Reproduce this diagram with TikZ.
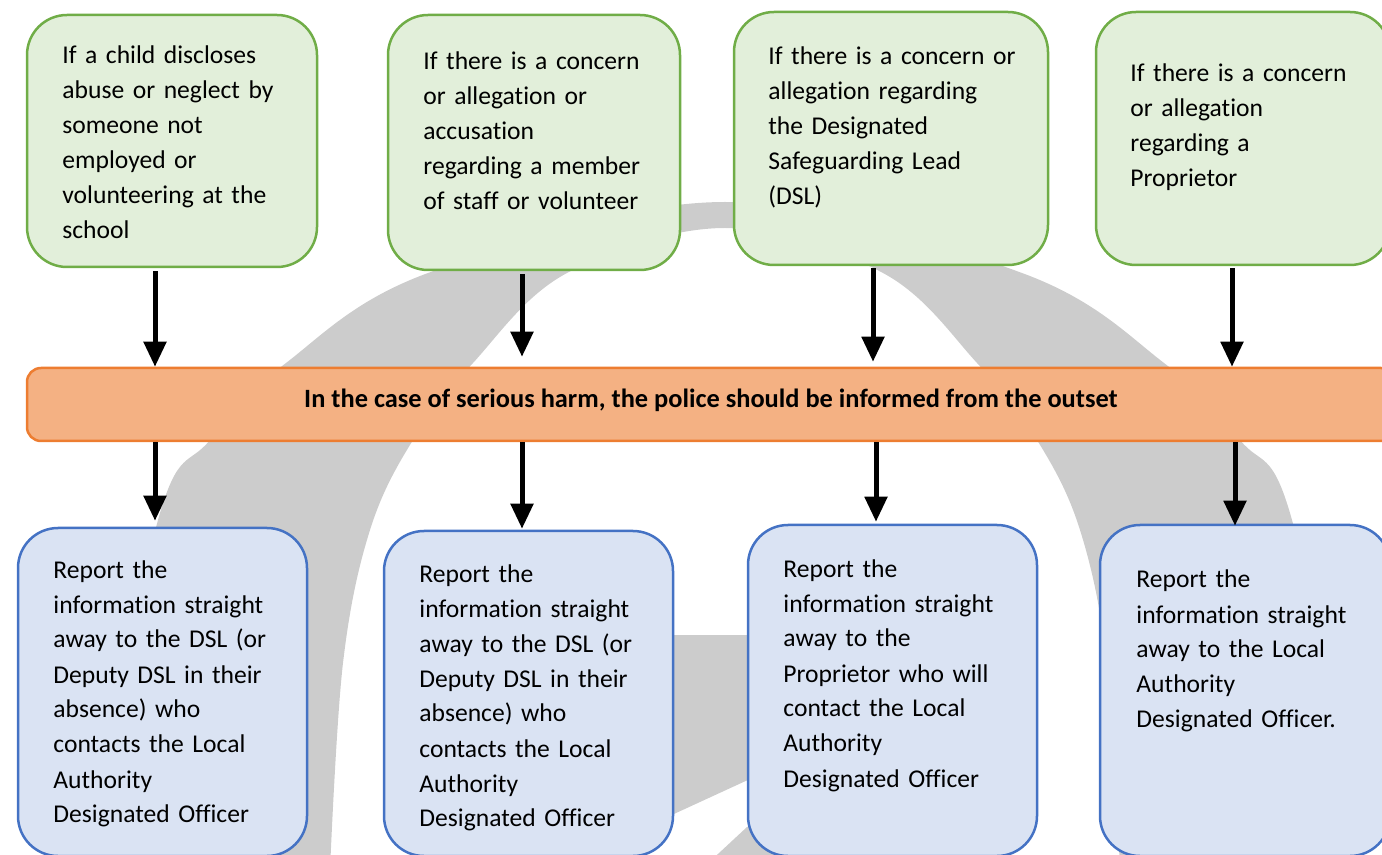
\documentclass[tikz,border=0pt]{standalone}
\usepackage{fontspec}
\setmainfont{Carlito}[Ligatures={TeX,NoCommon}]
\usetikzlibrary{arrows.meta, positioning, calc}

\definecolor{condfill}{HTML}{E2EFDA}
\definecolor{condline}{HTML}{70AD47}
\definecolor{harmfill}{HTML}{F4B183}
\definecolor{harmline}{HTML}{ED7D31}
\definecolor{actfill}{HTML}{DAE3F3}
\definecolor{actline}{HTML}{4472C4}
\definecolor{wmgrey}{HTML}{CCCCCC}

\begin{document}
\begin{tikzpicture}[x=0.5pt, y=-0.5pt,
      cond/.style={draw=condline, fill=condfill, line width=1.25pt, rounded corners=20pt, inner sep=0pt},
      act/.style={draw=actline, fill=actfill, line width=1.25pt, rounded corners=20pt, inner sep=0pt},
      harm/.style={draw=harmline, fill=harmfill, line width=1.25pt, rounded corners=7pt, inner sep=0pt},
      txt/.style={anchor=base west, inner sep=0pt, text width=155pt, align=left, font=\fontsize{12.8}{17.5}\selectfont},
      arr/.style={line width=2.5pt, -{Triangle[width=11pt, length=12.5pt]}}]
    \clip (0,0) rectangle (1382,855);

    %% watermark behind the chart
    \fill[wmgrey] plot[smooth, tension=0.6] coordinates {(90,870) (158,520) (210,440) (286,363) (428,273) (725,202) (1022,273) (1164,363) (1240,440) (1292,520) (1360,870)}
      -- plot[smooth, tension=0.6] coordinates {(1120,870) (1107,663) (1080,530) (1037,440) (977,363) (883,273) (725,228) (567,273) (473,363) (413,440) (370,530) (343,663) (330,870)} -- cycle;
    \fill[wmgrey] (600,635) -- (850,635) -- (850,733) -- (600,848) -- cycle;
    \fill[wmgrey] (690,880) -- (747,827) -- (850,790) -- (850,880) -- cycle;

    %% top row: who the concern is about
    \node[cond, minimum width=145pt, minimum height=126pt] (A) at (172,141) {};
    \node[cond, minimum width=146pt, minimum height=127.5pt] (B) at (534,142.5) {};
    \node[cond, minimum width=157pt, minimum height=126.5pt] (C) at (891,138.5) {};
    \node[cond, minimum width=147pt, minimum height=126.5pt] (D) at (1243,138.5) {};
    \node[txt] (tA) at (62,64) {If a child discloses\\abuse or neglect by\\someone not\\employed or\\volunteering at the\\school};
    \node[txt] (tB) at (423,70) {If there is a concern\\or allegation or\\accusation\\regarding a member\\of staff or volunteer};
    \node[txt] (tC) at (768,65) {If there is a concern or\\allegation regarding\\the Designated\\Safeguarding Lead\\(DSL)};
    \node[txt] (tD) at (1130,82) {If there is a concern\\or allegation\\regarding a\\Proprietor};

    %% police band
    \node[harm, minimum width=684pt, minimum height=36.5pt] (band) at (711,404.5) {};
    \node[anchor=base, inner sep=0pt, font=\fontsize{13.2}{16}\selectfont\bfseries] (police) at (711,408) {In the case of serious harm, the police should be informed from the outset};

    %% bottom row: what to do
    \node[act, minimum width=144.5pt, minimum height=164pt] (E) at (162.5,692) {};
    \node[act, minimum width=144.5pt, minimum height=162.5pt] (F) at (528.5,693.5) {};
    \node[act, minimum width=144.5pt, minimum height=165.5pt] (G) at (892.5,690.5) {};
    \node[act, minimum width=145pt, minimum height=165.5pt] (H) at (1245,690.5) {};
    \node[txt] (tE) at (53,578) {Report the\\information straight\\away to the DSL (or\\Deputy DSL in their\\absence) who\\contacts the Local\\Authority\\Designated Officer};
    \node[txt] (tF) at (419,582) {Report the\\information straight\\away to the DSL (or\\Deputy DSL in their\\absence) who\\contacts the Local\\Authority\\Designated Officer};
    \node[txt] (tG) at (783,577) {Report the\\information straight\\away to the\\Proprietor who will\\contact the Local\\Authority\\Designated Officer};
    \node[txt] (tH) at (1136,588) {Report the\\information straight\\away to the Local\\Authority\\Designated Officer.};

    %% arrows
    \draw[arr] ($(A.south)+(-17,3)$) -- ($(A.south |- band.north)+(-17,0)$); % A - band
    \draw[arr] ($(B.south)+(-12,3)$) -- ($(B.south |- band.north)+(-12,-10)$); % B - band
    \draw[arr] ($(C.south)+(-18,2)$) -- ($(C.south |- band.north)+(-18,-5)$); % C - band
    \draw[arr] ($(D.south)+(-11,2)$) -- ($(D.south |- band.north)+(-11,0)$); % D - band
    \draw[arr] ($(E.north |- band.south)+(-7.5,0)$) -- ($(E.north)+(-7.5,-6)$); % band - E
    \draw[arr] ($(F.north |- band.south)+(-6.5,0)$) -- ($(F.north)+(-6.5,-1)$); % band - F
    \draw[arr] ($(G.north |- band.south)+(-16.5,0)$) -- ($(G.north)+(-16.5,-2)$); % band - G
    \draw[arr] ($(H.north |- band.south)+(-10,0)$) -- ($(H.north)+(-10,2)$); % band - H
\end{tikzpicture}
\end{document}
